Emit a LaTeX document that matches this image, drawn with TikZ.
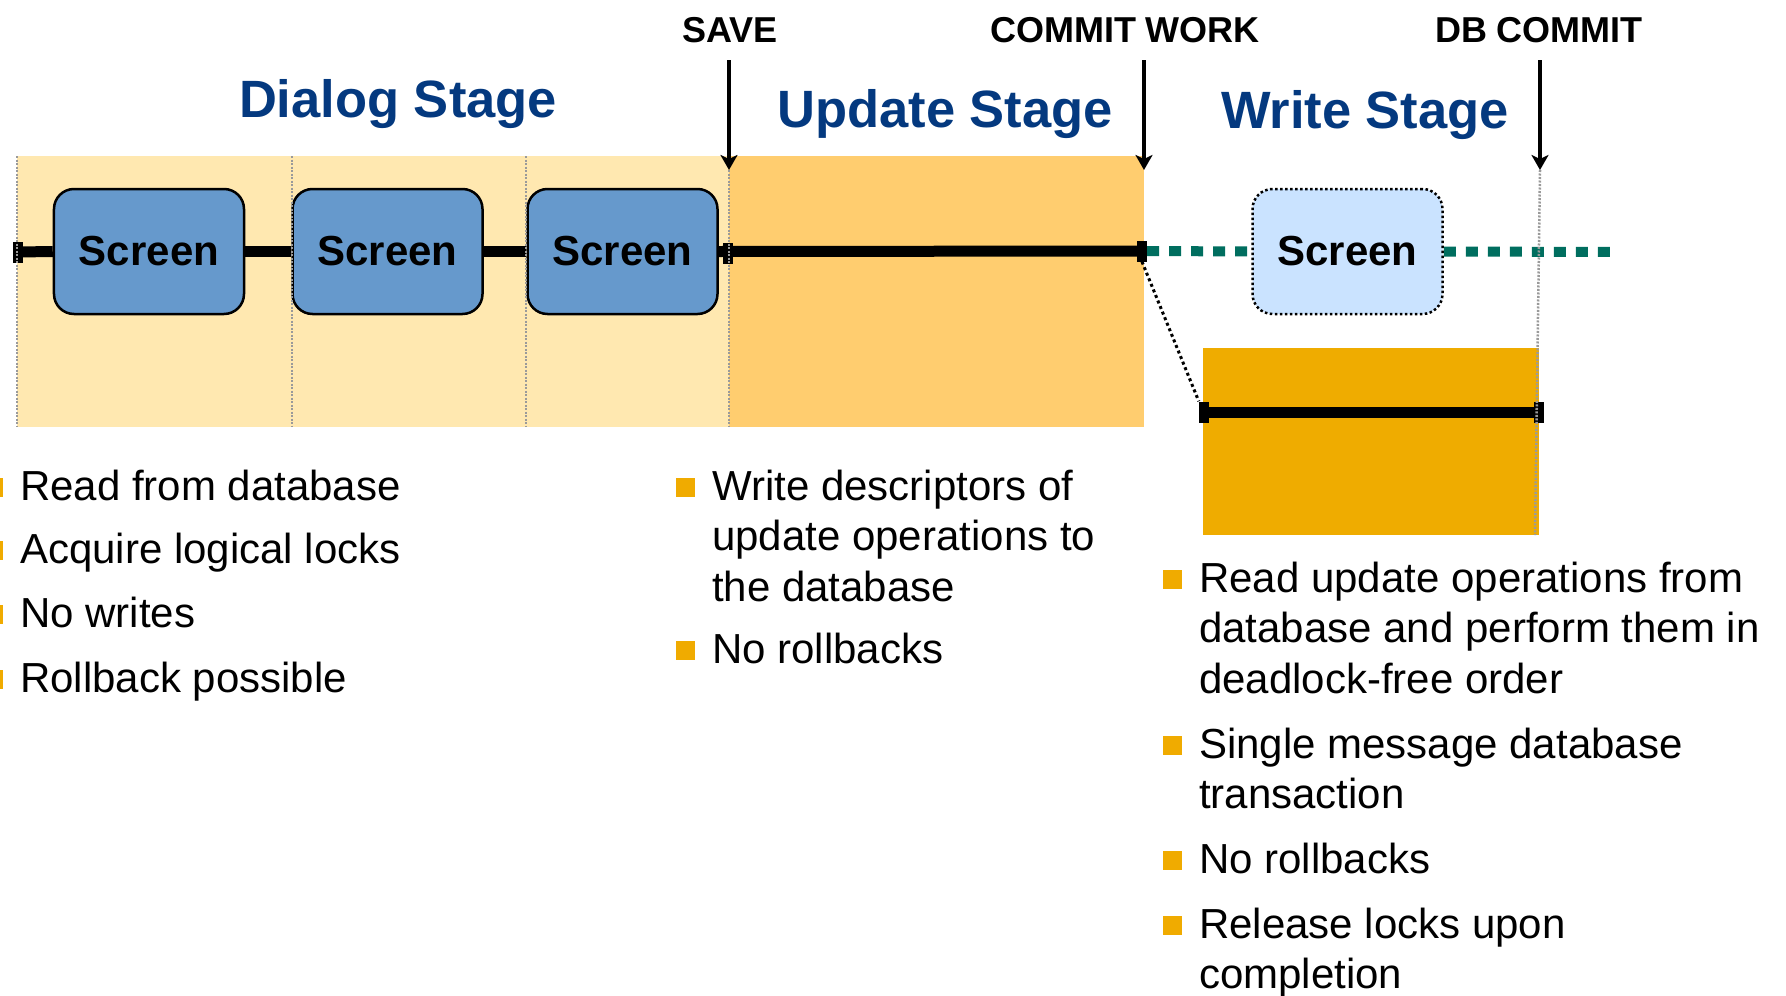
\documentclass[tikz,border=0pt]{standalone}
\usepackage{fontspec}
\setmainfont{Liberation Sans}
\usetikzlibrary{arrows.meta}

\definecolor{dialogbg}{HTML}{FFE8B0}
\definecolor{updatebg}{HTML}{FFCD6F}
\definecolor{writebg}{HTML}{EFAC00}
\definecolor{screenblue}{HTML}{6699CC}
\definecolor{screenlight}{HTML}{CAE3FF}
\definecolor{titleblue}{HTML}{04397F}
\definecolor{trackteal}{HTML}{006E5F}
\definecolor{divgrey}{HTML}{9A9A9A}
\definecolor{bulletorange}{HTML}{F0AB00}

% one bullet point: name, x, baseline y, lines separated by \cr
\newcommand\bitem[4]{%
  \fill[bulletorange] ({max(#2-36,0)},#3-22) rectangle (#2-17,#3-3);
  \node[item, anchor=base west] (#1) at (#2,#3) {\vtop{\halign{##\hfil\cr#4\crcr}}};
}

\begin{document}
\begin{tikzpicture}[x=1bp, y=-1bp,
  screenbox/.style={draw=black, line width=2.5bp, fill=screenblue, rounded corners=20bp,
    minimum width=190bp, minimum height=125bp, inner sep=0,
    font=\bfseries\fontsize{42bp}{48bp}\selectfont},
  ghostbox/.style={screenbox, fill=screenlight, dash pattern=on 2.5bp off 2.5bp},
  marker/.style={fill=black, minimum width=10bp, minimum height=21bp, inner sep=0},
  track/.style={line width=11bp},
  tealdots/.style={trackteal, line width=10bp, dash pattern=on 12bp off 10bp},
  divider/.style={divgrey, line width=2.5bp, dash pattern=on 2bp off 1.5bp},
  linkdots/.style={line width=3bp, dash pattern=on 3bp off 3bp},
  arr/.style={line width=3.5bp, -{Stealth[length=15bp,width=17bp,inset=4bp]}},
  evt/.style={font=\bfseries\fontsize{36bp}{40bp}\selectfont, inner sep=0},
  stage/.style={text=titleblue, font=\bfseries\fontsize{52.5bp}{60bp}\selectfont, inner sep=0},
  item/.style={font=\fontsize{42bp}{50.5bp}\selectfont, inner sep=0}]
\useasboundingbox (0,0) rectangle (1786,995);

% stage backgrounds
\fill[dialogbg] (17,156) rectangle (729,427);
\fill[updatebg] (729,156) rectangle (1144,427);
\fill[writebg] (1203,348) rectangle (1539,535);

% markers on the timelines
\node[marker] (m0) at (18,252) {};
\node[marker] (m1) at (728,253) {};
\node[marker] (m2) at (1142,251) {};
\node[marker] (m3) at (1204,412) {};
\node[marker] (m4) at (1539,412) {};
\coordinate (tend) at (1618,252);

% dialog screens
\node[screenbox] (s1) at (149,251.5) {Screen};
\node[screenbox] (s2) at (387.5,251.5) {Screen};
\node[screenbox] (s3) at (622.5,251.5) {Screen};
\node[ghostbox] (s4) at (1347.5,251.5) {Screen};

% timelines
\draw[track] (m0.center) -- (s1.west);
\draw[track] (s1.east) -- (s2.west);
\draw[track] (s2.east) -- (s3.west);
\draw[track] (s3.east) -- (m2.center);
\draw[track] (m3.center) -- (m4.center);
\draw[tealdots] (m2.east) -- (s4.west);
\draw[tealdots] (s4.east) -- (tend);
\draw[linkdots] (m2.south) -- (m3.north west);

% dotted dividers
\draw[divider] (17,156) -- (17,427);
\draw[divider] (292,156) -- (292,427);
\draw[divider] (526,156) -- (526,427);
\draw[divider] (729,170) -- (729,427);
\draw[divider] (1540,170) -- (1535,535);

% event labels and arrows
\node[evt, anchor=base] (save) at (730,42) {SAVE};
\node[evt, anchor=base] (commit) at (1125,42) {COMMIT WORK};
\node[evt, anchor=base] (dbc) at (1539,42) {DB COMMIT};
\coordinate (savetop) at (729,60);
\coordinate (savetip) at (729,170);
\coordinate (committop) at (1144,60);
\coordinate (committip) at (1144,170);
\coordinate (dbctop) at (1540,60);
\coordinate (dbctip) at (1540,170);
\draw[arr] (savetop) -- (savetip);
\draw[arr] (committop) -- (committip);
\draw[arr] (dbctop) -- (dbctip);

% stage titles
\node[stage, anchor=base] (dialog) at (398,117) {Dialog Stage};
\node[stage, anchor=base] (update) at (945,127) {Update Stage};
\node[stage, anchor=base] (write) at (1365,128) {Write Stage};

% bullet lists
\bitem{d1}{20}{500}{Read from database}
\bitem{d2}{20}{563}{Acquire logical locks}
\bitem{d3}{20}{627}{No writes}
\bitem{d4}{20}{692}{Rollback possible}

\bitem{u1}{712}{500}{Write descriptors of\cr update operations to\cr the database}
\bitem{u2}{712}{663}{No rollbacks}

\bitem{w1}{1199}{592}{Read update operations from\cr database and perform them in\cr deadlock-free order}
\bitem{w2}{1199}{758}{Single message database\cr transaction}
\bitem{w3}{1199}{873}{No rollbacks}
\bitem{w4}{1199}{938}{Release locks upon\cr completion}
\end{tikzpicture}
\end{document}
